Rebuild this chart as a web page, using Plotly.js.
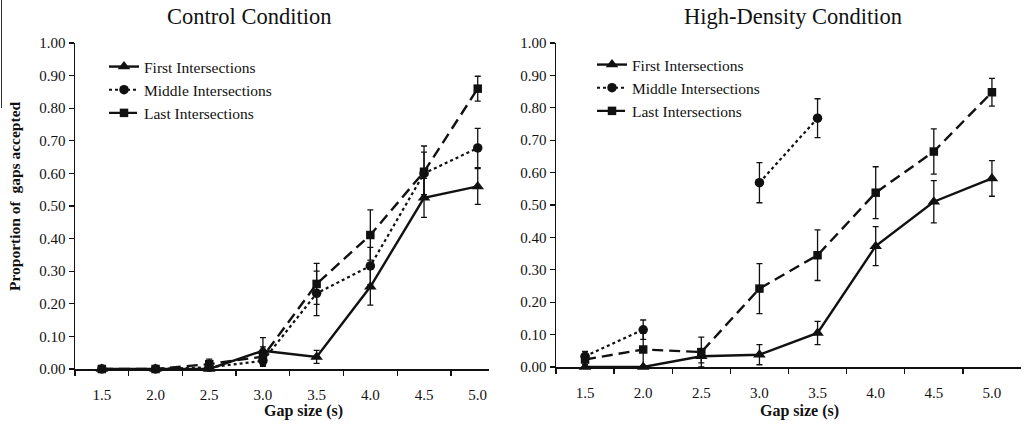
<!DOCTYPE html>
<html>
<head>
<meta charset="utf-8">
<script src="https://cdn.plot.ly/plotly-3.0.1.min.js"></script>
<style>html,body{margin:0;padding:0;background:#fff;}#chart{width:1025px;height:431px;}</style>
</head>
<body>
<div id="chart"></div>
<script>
// Gap sizes (categories)
const gapSizes = ['1.5','2.0','2.5','3.0','3.5','4.0','4.5','5.0'];
const yTickVals = [0,0.1,0.2,0.3,0.4,0.5,0.6,0.7,0.8,0.9,1.0];
const seriesNames = ['First Intersections','Middle Intersections','Last Intersections'];

// Control condition
const ctrlFirst    = [0, 0, 0, 0.056, 0.037, 0.252, 0.525, 0.560];
const ctrlFirstErr = [0, 0, 0, 0.040, 0.020, 0.056, 0.060, 0.055];
const ctrlMiddle    = [0, 0, 0.005, 0.025, 0.232, 0.316, 0.600, 0.678];
const ctrlMiddleErr = [0, 0, 0.010, 0.015, 0.068, 0.057, 0.065, 0.060];
const ctrlLast    = [0, 0, 0.015, 0.038, 0.261, 0.411, 0.605, 0.860];
const ctrlLastErr = [0.004, 0.004, 0.015, 0.030, 0.063, 0.077, 0.079, 0.038];

// High-density condition
const hdFirst    = [0, 0, 0.033, 0.038, 0.105, 0.373, 0.510, 0.582];
const hdFirstErr = [0, 0, 0.020, 0.031, 0.036, 0.060, 0.065, 0.055];
const hdMiddle    = [0.033, 0.115, null, 0.569, 0.768, null, null, null];
const hdMiddleErr = [0.015, 0.030, 0, 0.062, 0.060, 0, 0, 0];
const hdLast    = [0.023, 0.054, 0.046, 0.242, 0.345, 0.538, 0.665, 0.848];
const hdLastErr = [0.015, 0.050, 0.046, 0.077, 0.078, 0.080, 0.070, 0.043];

const INK = '#111';
const serif = 'Liberation Serif, Times New Roman, serif';

const styles = [
  {dash:'solid', width:2.4, symbol:'triangle-up', size:11},
  {dash:'dot', width:2.2, symbol:'circle', size:9.5},
  {dash:'11px,6px', width:2.4, symbol:'square', size:8.5}
];

function mk(y, err, idx, xa, ya, leg) {
  const s = styles[idx];
  return {
    x: gapSizes, y: y, xaxis: xa, yaxis: ya,
    type: 'scatter', mode: 'lines+markers', name: seriesNames[idx],
    legend: leg, connectgaps: false, cliponaxis: false,
    line: {color: INK, width: s.width, dash: s.dash},
    marker: {color: INK, symbol: s.symbol, size: s.size},
    error_y: {type: 'data', array: err, visible: true, color: INK, thickness: 1.3, width: 3}
  };
}

const data = [
  mk(ctrlFirst, ctrlFirstErr, 0, 'x', 'y', 'legend'),
  mk(ctrlMiddle, ctrlMiddleErr, 1, 'x', 'y', 'legend'),
  mk(ctrlLast, ctrlLastErr, 2, 'x', 'y', 'legend'),
  mk(hdFirst, hdFirstErr, 0, 'x2', 'y2', 'legend2'),
  mk(hdMiddle, hdMiddleErr, 1, 'x2', 'y2', 'legend2'),
  mk(hdLast, hdLastErr, 2, 'x2', 'y2', 'legend2')
];

const W = 1025, H = 431;
const px = v => v / W;
const py = v => 1 - v / H;

function xAxis(domain, range) {
  return {
    domain: domain, type: 'category', range: range,
    tickson: 'boundaries', ticks: 'outside', ticklen: 5, tickwidth: 1.3, tickcolor: INK,
    showline: true, linecolor: INK, linewidth: 1.5, showgrid: false, zeroline: false,
    tickfont: {family: serif, size: 15, color: INK}, ticklabelstandoff: 11,
    fixedrange: true
  };
}
function yAxis(domain, anchor) {
  return {
    domain: domain, anchor: anchor, range: [0, 1],
    tickvals: yTickVals, tickformat: '.2f',
    ticks: 'outside', ticklen: 5, tickwidth: 1.3, tickcolor: INK,
    showline: true, linecolor: INK, linewidth: 1.5, showgrid: false, zeroline: false,
    tickfont: {family: serif, size: 15, color: INK}, fixedrange: true
  };
}

const legendBase = {
  font: {family: serif, size: 15.5, color: INK},
  bgcolor: 'rgba(0,0,0,0)', itemwidth: 30, xanchor: 'left', yanchor: 'top',
  tracegroupgap: 0, itemclick: false, itemdoubleclick: false
};

const layout = {
  width: W, height: H,
  margin: {l: 0, r: 0, t: 0, b: 0},
  paper_bgcolor: '#fff', plot_bgcolor: '#fff',
  showlegend: true,
  xaxis: Object.assign(xAxis([px(75), px(489)], [-0.5, 7.21]), {anchor: 'y'}),
  yaxis: yAxis([py(369), py(43)], 'x'),
  xaxis2: Object.assign(xAxis([px(556), px(1021)], [-0.5, 7.5]), {anchor: 'y2'}),
  yaxis2: yAxis([py(367), py(43)], 'x2'),
  legend: Object.assign({}, legendBase, {x: px(104), y: py(50)}),
  legend2: Object.assign({}, legendBase, {x: px(592), y: py(48)}),
  annotations: [
    {text: 'Control Condition', xref: 'paper', yref: 'paper', x: px(249), y: py(17),
     showarrow: false, font: {family: serif, size: 22.5, color: INK}, xanchor: 'center', yanchor: 'middle'},
    {text: 'High-Density Condition', xref: 'paper', yref: 'paper', x: px(793), y: py(17),
     showarrow: false, font: {family: serif, size: 22.5, color: INK}, xanchor: 'center', yanchor: 'middle'},
    {text: '<b>Gap size (s)</b>', xref: 'paper', yref: 'paper', x: px(303), y: py(411),
     showarrow: false, font: {family: serif, size: 16, color: INK}, xanchor: 'center', yanchor: 'middle'},
    {text: '<b>Gap size (s)</b>', xref: 'paper', yref: 'paper', x: px(799), y: py(411),
     showarrow: false, font: {family: serif, size: 16, color: INK}, xanchor: 'center', yanchor: 'middle'},
    {text: '<b>Proportion of  gaps accepted</b>', xref: 'paper', yref: 'paper', x: px(14), y: py(196),
     showarrow: false, textangle: -90, font: {family: serif, size: 15.5, color: INK}, xanchor: 'center', yanchor: 'middle'}
  ],
  shapes: [
    {type: 'line', xref: 'paper', yref: 'paper', x0: px(1.5), x1: px(1.5), y0: py(0), y1: py(108),
     line: {color: '#333', width: 1}}
  ]
};

Plotly.newPlot('chart', data, layout, {displayModeBar: false, staticPlot: true});
</script>
</body>
</html>
